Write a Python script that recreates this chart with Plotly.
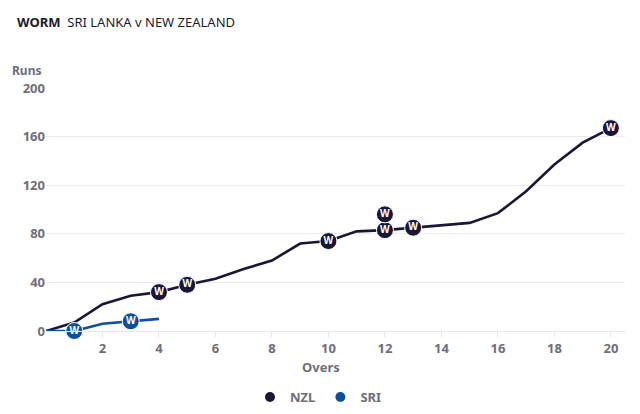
import plotly.graph_objects as go

overs = list(range(0, 21))
nzl_runs = [0, 7, 22, 29, 32, 38, 43, 51, 58, 72, 74, 82, 83, 85, 87, 89, 97, 115, 137, 155, 167]
sri_overs = [0, 1, 2, 3, 4]
sri_runs = [0, 0, 6, 8, 10]

nzl_wkt_overs = [4, 5, 10, 12, 12, 13, 20]
nzl_wkt_runs = [32, 38, 74, 83, 96, 85, 167]
sri_wkt_overs = [1, 3]
sri_wkt_runs = [0, 8]

NZL_C = "#1b1638"
SRI_C = "#0e4f9e"
GRAY = "#6e6e7a"
FONT = "Noto Sans"

fig = go.Figure()
fig.add_trace(go.Scatter(x=overs, y=nzl_runs, mode="lines", line=dict(color=NZL_C, width=2.6),
                         showlegend=False, hoverinfo="skip"))
fig.add_trace(go.Scatter(x=sri_overs, y=sri_runs, mode="lines", line=dict(color=SRI_C, width=2.6),
                         showlegend=False, hoverinfo="skip"))
for xs, ys, c in [(nzl_wkt_overs, nzl_wkt_runs, NZL_C), (sri_wkt_overs, sri_wkt_runs, SRI_C)]:
    fig.add_trace(go.Scatter(x=xs, y=ys, mode="markers+text", text=["W"] * len(xs),
                             textposition="middle center",
                             textfont=dict(color="white", size=10, family=FONT, weight="bold"),
                             marker=dict(size=17, color=c, line=dict(color="white", width=1)),
                             showlegend=False, cliponaxis=False))
fig.add_trace(go.Scatter(x=[None], y=[None], mode="markers", name="NZL",
                         marker=dict(size=10, color=NZL_C)))
fig.add_trace(go.Scatter(x=[None], y=[None], mode="markers", name="SRI",
                         marker=dict(size=10, color=SRI_C)))

fig.update_layout(
    width=640, height=414,
    margin=dict(l=46, r=15, t=88, b=83, autoexpand=False),
    paper_bgcolor="white", plot_bgcolor="white",
    font=dict(family=FONT, color=GRAY),
    xaxis=dict(range=[0, 20.5], tickvals=list(range(2, 21, 2)), showgrid=False,
               showline=True, linecolor="#e6e6e6", ticks="outside", ticklen=5,
               tickcolor="#e6e6e6", zeroline=False, automargin=False,
               tickfont=dict(size=13, color=GRAY, weight="bold")),
    yaxis=dict(range=[0, 200], tickvals=[0, 40, 80, 120, 160, 200], showgrid=True,
               gridcolor="#ececec", zeroline=False, ticks="", automargin=False,
               tickfont=dict(size=13, color=GRAY, weight="bold")),
    legend=dict(orientation="h", xref="container", yref="container",
                x=(255 - 5) / 640, xanchor="left", y=1 - 397 / 414, yanchor="middle",
                font=dict(size=13, color=GRAY, weight="bold"), itemwidth=30),
    annotations=[
        dict(text="<b>WORM</b>  SRI LANKA v NEW ZEALAND", xref="paper", yref="paper",
             x=(15 - 46) / 579, y=1 + (88 - 22) / 242, xanchor="left", yanchor="middle",
             showarrow=False, font=dict(size=13, color="#1a1a2e", family=FONT)),
        dict(text="<b>Runs</b>", xref="paper", yref="paper", x=(10 - 46) / 579, y=1 + (88 - 71) / 242,
             xanchor="left", yanchor="middle", showarrow=False,
             font=dict(size=12, color=GRAY, family=FONT)),
        dict(text="<b>Overs</b>", xref="paper", yref="paper", x=(321 - 46) / 579,
             y=-(366 - 330) / 242, xanchor="center", yanchor="middle", showarrow=False,
             font=dict(size=13, color=GRAY, family=FONT)),
    ],
)

fig.write_html("out.html")
